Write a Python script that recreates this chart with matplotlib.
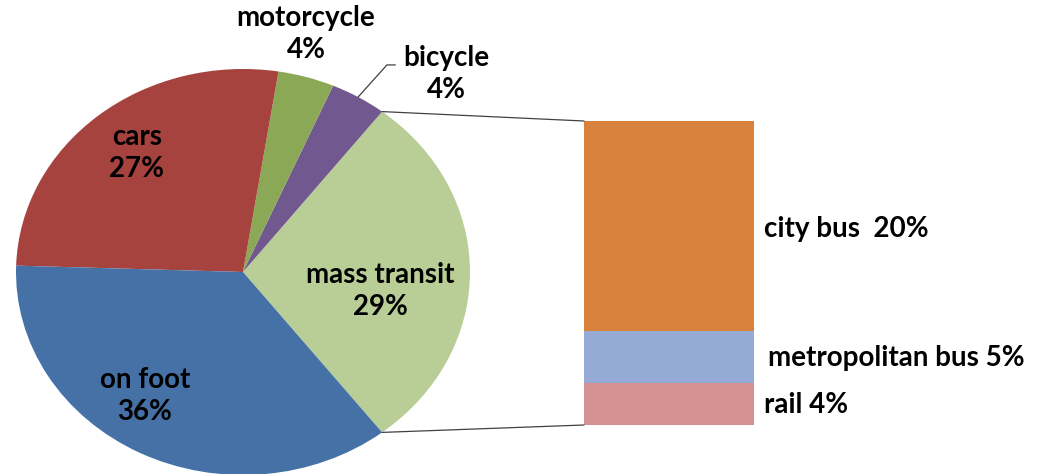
import numpy as np
import matplotlib.pyplot as plt
from matplotlib.patches import ConnectionPatch

plt.rcParams['font.family'] = ['Lato', 'DejaVu Sans']
plt.rcParams['font.weight'] = 'bold'

# pie data (counter-clockwise from the right)
pie_labels = ["mass transit", "bicycle", "motorcycle", "cars", "on foot"]
pie_values = [29, 4, 4, 27, 36]
pie_colors = ["#B9CE96", "#71588F", "#8AA855", "#A6433F", "#4571A7"]

# breakdown of mass transit (bottom to top)
bar_labels = ["rail", "metropolitan bus", "city bus"]
bar_values = [4, 5, 20]
bar_colors = ["#D59191", "#95AAD4", "#D9823E"]
bar_texts = ["rail 4%", "metropolitan bus 5%", "city bus  20%"]

W, H = 1038, 474
fig = plt.figure(figsize=(W / 100, H / 100), dpi=100)

# pie is slightly stretched horizontally in the reference
cx, cy, rx, ry = 243, 272, 227, 203
ax_pie = fig.add_axes([(cx - rx) / W, (H - cy - ry) / H, 2 * rx / W, 2 * ry / H])
start = -pie_values[0] / 100 * 360 / 2
wedges, _ = ax_pie.pie(pie_values, colors=pie_colors, startangle=start,
                       counterclock=True, radius=1,
                       wedgeprops=dict(linewidth=0))
ax_pie.set_aspect('auto')
ax_pie.set_xlim(-1, 1)
ax_pie.set_ylim(-1, 1)
ax_pie.axis('off')

label_pos = {
    "mass transit": (0.604, -0.094),
    "bicycle": (0.894, 0.975),
    "motorcycle": (0.278, 1.172),
    "cars": (-0.467, 0.586),
    "on foot": (-0.432, -0.611),
}
for name, val in zip(pie_labels, pie_values):
    x, y = label_pos[name]
    ax_pie.text(x, y, f"{name}\n{val}%", ha='center', va='center',
                fontsize=20, fontweight='bold', color='black',
                linespacing=1.3, clip_on=False)

# leader line for bicycle
ax_pie.plot([0.507, 0.634, 0.670], [0.862, 1.020, 1.020], color='#404040',
            lw=0.9, clip_on=False)

# stacked bar
bx0, bx1, by0, by1 = 584, 754, 121, 425
ax_bar = fig.add_axes([bx0 / W, (H - by1) / H, (bx1 - bx0) / W, (by1 - by0) / H])
bottom = 0
for val, col, txt in zip(bar_values, bar_colors, bar_texts):
    ax_bar.bar(0.5, val, width=1, bottom=bottom, color=col, linewidth=0)
    bottom += val
ax_bar.set_xlim(0, 1)
ax_bar.set_ylim(0, sum(bar_values))
ax_bar.axis('off')

text_y = [1.9, 6.4, 18.7]
text_x = [1.06, 1.08, 1.06]
for txt, tx, ty in zip(bar_texts, text_x, text_y):
    ax_bar.text(tx, ty, txt, ha='left', va='center', fontsize=20,
                fontweight='bold', clip_on=False)

# connection lines from mass transit wedge to bar
th1 = np.deg2rad(wedges[0].theta1)
th2 = np.deg2rad(wedges[0].theta2)
for th, yb in [(th2, sum(bar_values)), (th1, 0)]:
    con = ConnectionPatch(xyA=(np.cos(th), np.sin(th)), coordsA=ax_pie.transData,
                          xyB=(0, yb), coordsB=ax_bar.transData,
                          color='#404040', lw=0.9)
    fig.add_artist(con)

fig.savefig("out.png", dpi=100, facecolor='white')
